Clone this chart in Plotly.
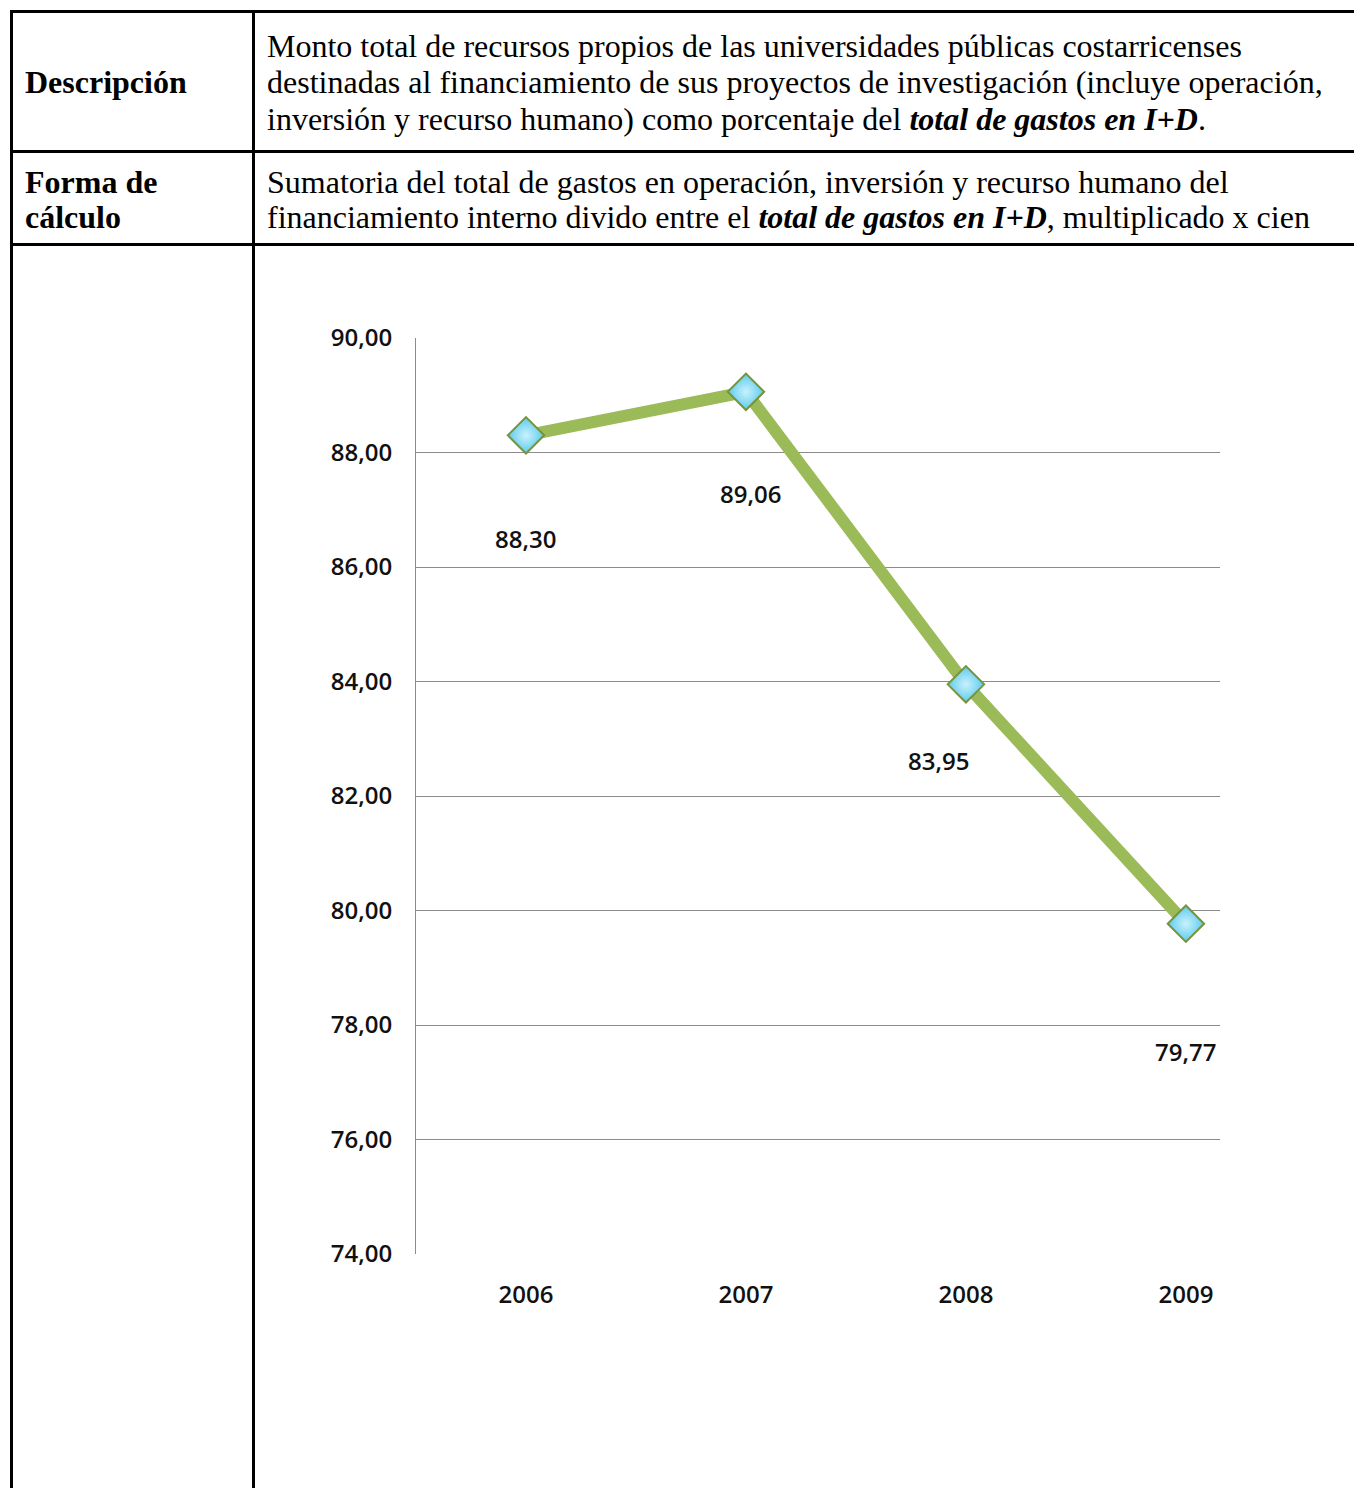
import plotly.graph_objects as go

# ---- data ----
years = ["2006", "2007", "2008", "2009"]
values = [88.30, 89.06, 83.95, 79.77]
value_labels = ["88,30", "89,06", "83,95", "79,77"]
y_ticks = [74, 76, 78, 80, 82, 84, 86, 88, 90]
y_tick_labels = ["74,00", "76,00", "78,00", "80,00", "82,00", "84,00", "86,00", "88,00", "90,00"]

row1_label = ["Descripción"]
row1_lines = [
    "Monto total de recursos propios de las universidades públicas costarricenses",
    "destinadas al financiamiento de sus proyectos de investigación (incluye operación,",
    "inversión y recurso humano) como porcentaje del <b><i>total de gastos en I+D</i></b>.",
]
row2_label = ["Forma de", "cálculo"]
row2_lines = [
    "Sumatoria del total de gastos en operación, inversión y recurso humano del",
    "financiamiento interno divido entre el <b><i>total de gastos en I+D</i></b>, multiplicado x cien",
]

W, H = 1362, 1488
OFF = 8  # page body margin


def px_x(x):
    return (x - OFF) / W


def px_y(y):
    return 1 - (y - OFF) / H


fig = go.Figure()

fig.add_trace(go.Scatter(
    x=years, y=values, mode="lines+markers",
    line=dict(color="#9BBB59", width=12),
    marker=dict(symbol="diamond", size=28, color="#5CCBEE",
                gradient=dict(type="radial", color="#C9F1FC"),
                line=dict(color="#77933C", width=2)),
    showlegend=False, hoverinfo="skip",
))

# data labels (x given as category index)
label_shift_y = [-103, -102, -76, -128]
label_shift_x = [0, 5, -27, 0]
for i in range(len(years)):
    fig.add_annotation(x=i, y=values[i], xref="x", yref="y", text=value_labels[i],
                       showarrow=False, xshift=label_shift_x[i], yshift=label_shift_y[i],
                       font=dict(family="Open Sans", size=24, color="#111111", weight=600))

# plot area in pixels
PL, PR, PT, PB = 416, 1220, 338, 1254
tickfont = dict(family="Open Sans", size=24, color="#111111", weight=600)
fig.update_layout(
    template="none",
    width=W, height=H, margin=dict(l=0, r=0, t=0, b=0, pad=0, autoexpand=False),
    paper_bgcolor="white", plot_bgcolor="white", showlegend=False,
    xaxis=dict(domain=[px_x(PL), px_x(PR)], type="category", range=[-0.5, 3.155],
               showgrid=False, showline=False, zeroline=False, ticks="", automargin=False,
               tickfont=tickfont, ticklabelstandoff=24),
    yaxis=dict(domain=[px_y(PB), px_y(PT)], range=[74, 90], tickvals=y_ticks,
               ticktext=y_tick_labels, showgrid=True, gridcolor="#8C8C8C", gridwidth=1,
               showline=True, linecolor="#8C8C8C", linewidth=1, zeroline=False, ticks="",
               automargin=False, tickfont=tickfont, ticklabelstandoff=18),
)

# ---- table frame ----
lw = 3
shapes = []


def hline(y, x0, x1):
    shapes.append(dict(type="line", xref="paper", yref="paper", x0=px_x(x0), x1=px_x(x1),
                       y0=px_y(y), y1=px_y(y), line=dict(color="black", width=lw)))


def vline(x, y0, y1):
    shapes.append(dict(type="line", xref="paper", yref="paper", x0=px_x(x), x1=px_x(x),
                       y0=px_y(y0), y1=px_y(y1), line=dict(color="black", width=lw)))


hline(11.5, 10, W + 20)
hline(151.5, 10, W + 20)
hline(244.5, 10, W + 20)
vline(11.5, 10, H + 20)
vline(253.5, 10, H + 20)
fig.update_layout(shapes=shapes)

serif = dict(family="Liberation Serif, Times New Roman, serif", size=32, color="black")


def add_text(x, y, txt):
    fig.add_annotation(xref="paper", yref="paper", x=px_x(x), y=px_y(y), text=txt,
                       showarrow=False, xanchor="left", yanchor="middle", align="left",
                       font=serif)


add_text(23, 82, "<b>" + row1_label[0] + "</b>")
for txt, yc in zip(row1_lines, [46, 82, 119]):
    add_text(265, yc, txt)
for txt, yc in zip(row2_label, [182, 217]):
    add_text(23, yc, "<b>" + txt + "</b>")
for txt, yc in zip(row2_lines, [182, 217]):
    add_text(265, yc, txt)

fig.write_html("out.html", config={"displayModeBar": False})
